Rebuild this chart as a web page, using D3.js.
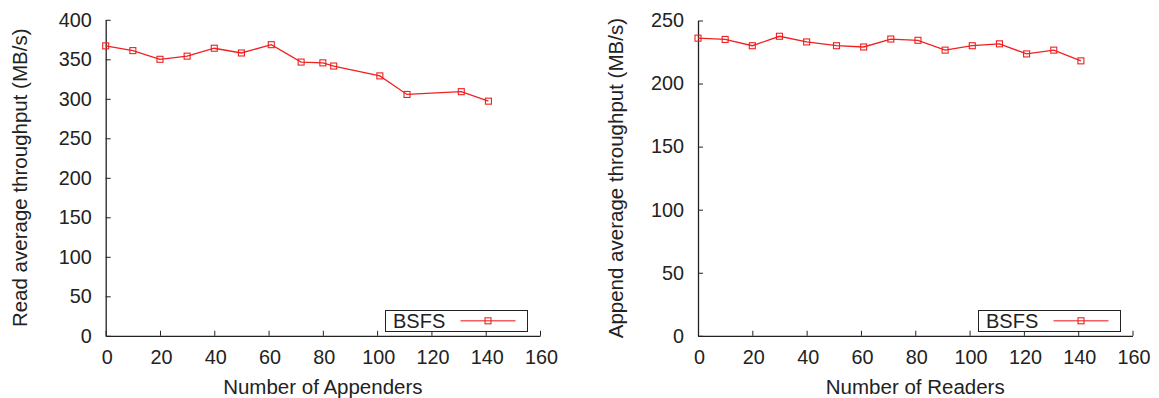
<!DOCTYPE html>
<html>
<head>
<meta charset="utf-8">
<script src="https://cdn.jsdelivr.net/npm/d3@7"></script>
<style>
  html, body { margin: 0; padding: 0; background: #fff; }
  svg { display: block; }
  text { font-family: "Liberation Sans", Arial, Helvetica, sans-serif; fill: #222; }
</style>
</head>
<body>
<svg id="chart" width="1159" height="398"></svg>
<script>
// ---- Data ----
const appenders = [0, 10, 20, 30, 40, 50, 61, 72, 80, 84, 101, 111, 131, 141];
const readThroughput = [367, 361, 350, 354, 364, 358, 368.5, 346.5, 345.5, 341.5, 329, 305.5, 309, 297];

const readers = [0, 10, 20, 30, 40, 51, 61, 71, 81, 91, 101, 111, 121, 131, 141];
const appendThroughput = [236, 235, 230, 237.5, 233, 230, 229, 235.3, 234.3, 226.5, 230, 231.5, 223.5, 226.5, 218];

const xTicks = [0, 20, 40, 60, 80, 100, 120, 140, 160];
const leftYTicks = [0, 50, 100, 150, 200, 250, 300, 350, 400];
const rightYTicks = [0, 50, 100, 150, 200, 250];

const seriesName = "BSFS";

// ---- Drawing ----
const svg = d3.select("#chart");
const RED = "#f02020";
const AXIS = "#222";
const TICK_FONT = 19.8;

function drawPanel(opts) {
  const g = svg.append("g");
  const x = d3.scaleLinear().domain([0, 160]).range([opts.x0, opts.x1]);
  const y = d3.scaleLinear().domain([0, opts.yMax]).range([opts.yBottom, opts.yTop]);

  // x axis (ticks inward)
  const xa = g.append("g").attr("transform", `translate(0,${opts.yBottom})`)
    .call(d3.axisBottom(x).tickValues(xTicks).tickSizeInner(-5).tickSizeOuter(0).tickPadding(15));
  xa.select(".domain").attr("stroke", AXIS).attr("stroke-width", 1.3);
  xa.selectAll(".tick line").attr("stroke", AXIS).attr("stroke-width", 1);
  xa.selectAll(".tick text").attr("font-size", TICK_FONT).attr("dy", "0.71em")
    .attr("y", 14).attr("x", 1).style("font-family", '"Liberation Sans", Arial, sans-serif').attr("fill", "#222");

  // y axis (ticks inward)
  const ya = g.append("g").attr("transform", `translate(${opts.x0},0)`)
    .call(d3.axisLeft(y).tickValues(opts.yTicks).tickSizeInner(-5).tickSizeOuter(0).tickPadding(15));
  ya.select(".domain").attr("stroke", AXIS).attr("stroke-width", 1.3);
  ya.selectAll(".tick line").attr("stroke", AXIS).attr("stroke-width", 1);
  ya.selectAll(".tick text").attr("font-size", TICK_FONT).attr("x", -14)
    .style("font-family", '"Liberation Sans", Arial, sans-serif').attr("fill", "#222");

  // axis titles
  g.append("text")
    .attr("x", (opts.x0 + opts.x1) / 2).attr("y", 394)
    .attr("text-anchor", "middle").attr("font-size", 20.5)
    .text(opts.xTitle);
  g.append("text")
    .attr("transform", `translate(${opts.yTitleX},${(opts.yBottom + opts.yTop) / 2}) rotate(-90)`)
    .attr("text-anchor", "middle").attr("font-size", 20.5)
    .text(opts.yTitle);

  // line
  const line = d3.line().x((d, i) => x(opts.xs[i])).y(d => y(d));
  g.append("path").datum(opts.ys)
    .attr("fill", "none").attr("stroke", RED).attr("stroke-width", 1.3)
    .attr("d", line);

  // markers
  const s = 6;
  g.selectAll("rect.pt").data(opts.ys).join("rect")
    .attr("class", "pt")
    .attr("x", (d, i) => x(opts.xs[i]) - s / 2)
    .attr("y", d => y(d) - s / 2)
    .attr("width", s).attr("height", s)
    .attr("fill", "none").attr("stroke", RED).attr("stroke-width", 1.1);

  // legend
  const lg = g.append("g");
  lg.append("rect")
    .attr("x", opts.legX).attr("y", 310.5).attr("width", 142).attr("height", 21)
    .attr("fill", "#fff").attr("stroke", AXIS).attr("stroke-width", 1);
  lg.append("text")
    .attr("x", opts.legX + 7.5).attr("y", 327.5).attr("font-size", 20)
    .text(seriesName);
  lg.append("line")
    .attr("x1", opts.legX + 75).attr("x2", opts.legX + 130)
    .attr("y1", 320.8).attr("y2", 320.8)
    .attr("stroke", "#f46060").attr("stroke-width", 1.6);
  lg.append("rect")
    .attr("x", opts.legX + 102.5 - s / 2).attr("y", 320.8 - s / 2)
    .attr("width", s).attr("height", s)
    .attr("fill", "none").attr("stroke", RED).attr("stroke-width", 1.1);
}

drawPanel({
  x0: 105.7, x1: 540, yBottom: 335.8, yTop: 19.8, yMax: 400,
  yTicks: leftYTicks, xs: appenders, ys: readThroughput,
  xTitle: "Number of Appenders", yTitle: "Read average throughput (MB/s)",
  yTitleX: 27, legX: 385.5
});

drawPanel({
  x0: 698, x1: 1132.5, yBottom: 335.8, yTop: 20.5, yMax: 250,
  yTicks: rightYTicks, xs: readers, ys: appendThroughput,
  xTitle: "Number of Readers", yTitle: "Append average throughput (MB/s)",
  yTitleX: 622.5, legX: 978.5
});
</script>
</body>
</html>
